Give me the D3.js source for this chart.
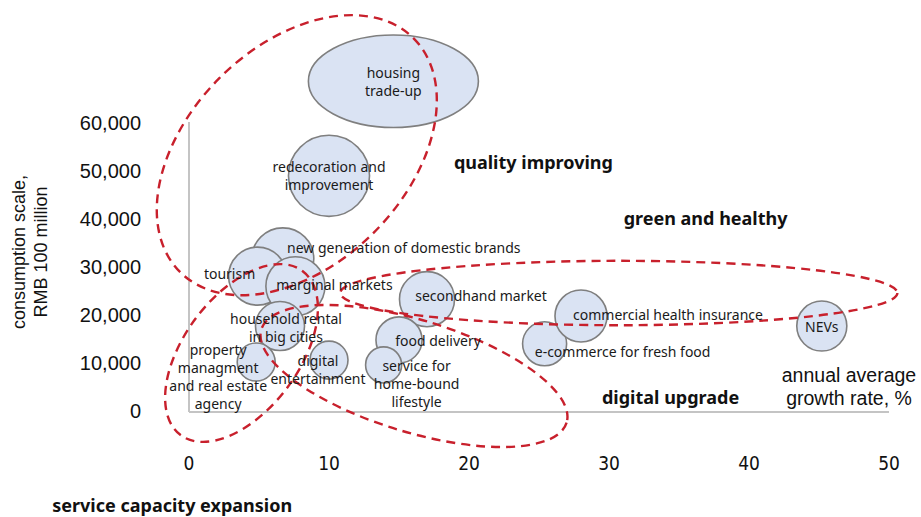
<!DOCTYPE html>
<html>
<head>
<meta charset="utf-8">
<script src="https://cdn.jsdelivr.net/npm/d3@7"></script>
<style>
  body { margin: 0; background: #fff; }
  svg { display: block; }
  .bubbleLabel { font-family: "Noto Sans", sans-serif; font-size: 14px; fill: #1a1a1a; }
  .groupLabel { font-family: "Noto Sans", sans-serif; font-size: 18px; font-weight: 700; fill: #111; }
  .yTick { font-family: "Liberation Sans", Arial, sans-serif; font-size: 20px; fill: #111; }
  .xTick { font-family: "Liberation Sans Narrow", "DejaVu Sans Condensed", sans-serif; font-stretch: condensed; font-size: 19px; fill: #111; }
  .axisTitle { font-family: "Liberation Sans", Arial, sans-serif; font-size: 18px; fill: #111; }
</style>
</head>
<body>
<div id="chart"></div>
<script>
const width = 921;
const height = 517;

// bubble data
const names = ["housing\ntrade-up", "redecoration and\nimprovement", "new generation of domestic brands",
  "tourism", "marginal markets", "household rental\nin big cities", "property\nmanagment\nand real estate\nagency",
  "digital\nentertainment", "secondhand market", "food delivery", "service for\nhome-bound\nlifestyle",
  "e-commerce for fresh food", "commercial health insurance", "NEVs"];
const growth = [14.6, 10, 6.7, 4.9, 7.6, 6.5, 4.8, 10, 17, 15, 13.9, 25.4, 28, 45.2];
const scale = [68700, 49000, 31700, 28100, 26000, 17700, 10200, 10600, 23300, 14800, 9600, 14000, 19800, 17700];
const bubbleSize = [3900, 1640, 960, 840, 870, 600, 360, 360, 756, 530, 324, 484, 676, 625];

const xTicks = [0, 10, 20, 30, 40, 50];
const yTicks = [0, 10000, 20000, 30000, 40000, 50000, 60000];

// dashed groups: centre in data units, semi axes in x units, tilt in degrees
const groupNames = ["quality improving", "green and healthy", "digital upgrade", "service capacity expansion"];
const groupCx = [7.7, 30.7, 16.07, 3.75];
const groupCy = [53300, 24580, 7290, 12080];
const groupA = [11.8, 19.9, 11.4, 7.3];
const groupB = [7.8, 2.3, 4.0, 4.1];
const groupTilt = [-45, 0, 17, -53.4];
const groupLabelX = [24.6, 36.9, 34.4, -1.2];
const groupLabelY = [51900, 40200, 2900, -19600];

// label offsets from bubble centre (px)
const labelDx = [0, 0, 121, -28, 39, 6, -38, -11, 54, 39, 33, 78, 87, 0];
const labelDy = [0, 0, -11, -3, -2, 1, 14, 9, -4, 1, 19, 8, -1, 0];

const x = d3.scaleLinear().domain([0, 50]).range([189, 889]);
const y = d3.scaleLinear().domain([0, 60000]).range([411, 123]);
const r = d3.scaleSqrt().domain([0, 3900]).range([0, 62.5]);

const svg = d3.select("#chart").append("svg")
    .attr("width", width)
    .attr("height", height);

// axes lines
svg.append("line")
    .attr("x1", x(0)).attr("x2", x(0))
    .attr("y1", y(60000) - 1).attr("y2", y(0) + 1)
    .attr("stroke", "#c4c4c4").attr("stroke-width", 2);
svg.append("line")
    .attr("x1", x(0)).attr("x2", x(50))
    .attr("y1", y(0) + 1).attr("y2", y(0) + 1)
    .attr("stroke", "#c4c4c4").attr("stroke-width", 2);

svg.selectAll("text.yTick")
    .data(yTicks)
    .enter()
    .append("text")
    .attr("class", "yTick")
    .attr("x", 141)
    .attr("y", d => y(d))
    .attr("dominant-baseline", "central")
    .style("text-anchor", "end")
    .text(d => d3.format(",")(d));

svg.selectAll("text.xTick")
    .data(xTicks)
    .enter()
    .append("text")
    .attr("class", "xTick")
    .attr("x", d => x(d))
    .attr("y", 463)
    .attr("dominant-baseline", "central")
    .style("text-anchor", "middle")
    .text(d => d);

// y axis title
const yTitle = svg.append("text")
    .attr("class", "axisTitle")
    .attr("transform", "translate(29, 252) rotate(-90)")
    .style("text-anchor", "middle");
yTitle.append("tspan").attr("x", 0).attr("y", -4).text("consumption scale,");
yTitle.append("tspan").attr("x", 0).attr("y", 18).text("RMB 100 million");

const xTitle = svg.append("text")
    .attr("class", "axisTitle")
    .style("font-size", "19.5px")
    .style("text-anchor", "middle");
xTitle.append("tspan").attr("x", 849).attr("y", 382).text("annual average");
xTitle.append("tspan").attr("x", 849).attr("y", 405).text("growth rate, %");

// bubbles
const bubbles = names.map((n, i) => ({
  name: n, gx: growth[i], sy: scale[i], size: bubbleSize[i], dx: labelDx[i], dy: labelDy[i]
}));

svg.selectAll("ellipse.bubble")
    .data(bubbles)
    .enter()
    .append("ellipse")
    .attr("class", "bubble")
    .attr("cx", d => x(d.gx))
    .attr("cy", d => y(d.sy))
    .attr("rx", (d, i) => i === 0 ? r(d.size) * 1.36 : r(d.size))
    .attr("ry", (d, i) => i === 0 ? r(d.size) * 0.74 : r(d.size))
    .style("fill", "#dae3f3")
    .style("stroke", "#7f7f7f")
    .style("stroke-width", 1.6);

// dashed groups
const groups = groupNames.map((n, i) => ({
  name: n, cx: groupCx[i], cy: groupCy[i], a: groupA[i], b: groupB[i], tilt: groupTilt[i],
  lx: groupLabelX[i], ly: groupLabelY[i]
}));

svg.selectAll("ellipse.group")
    .data(groups)
    .enter()
    .append("ellipse")
    .attr("class", "group")
    .attr("transform", d => `translate(${x(d.cx)},${y(d.cy)}) rotate(${d.tilt})`)
    .attr("rx", d => x(d.a) - x(0))
    .attr("ry", d => x(d.b) - x(0))
    .style("fill", "none")
    .style("stroke", "#c8202c")
    .style("stroke-width", 2.4)
    .style("stroke-dasharray", "9,6");

// bubble labels
svg.selectAll("text.bubbleLabel")
    .data(bubbles)
    .enter()
    .append("text")
    .attr("class", "bubbleLabel")
    .style("text-anchor", "middle")
    .each(function(d) {
      const lines = d.name.split("\n");
      const lh = 18;
      const cx = x(d.gx) + d.dx;
      const cy = y(d.sy) + d.dy - (lines.length - 1) * lh / 2;
      d3.select(this).selectAll("tspan")
        .data(lines)
        .enter()
        .append("tspan")
        .attr("x", cx)
        .attr("y", (l, j) => cy + j * lh)
        .attr("dominant-baseline", "central")
        .text(l => l);
    });

svg.selectAll("text.groupLabel")
    .data(groups)
    .enter()
    .append("text")
    .attr("class", "groupLabel")
    .attr("x", d => x(d.lx))
    .attr("y", d => y(d.ly))
    .attr("dominant-baseline", "central")
    .style("text-anchor", "middle")
    .text(d => d.name);
</script>
</body>
</html>
